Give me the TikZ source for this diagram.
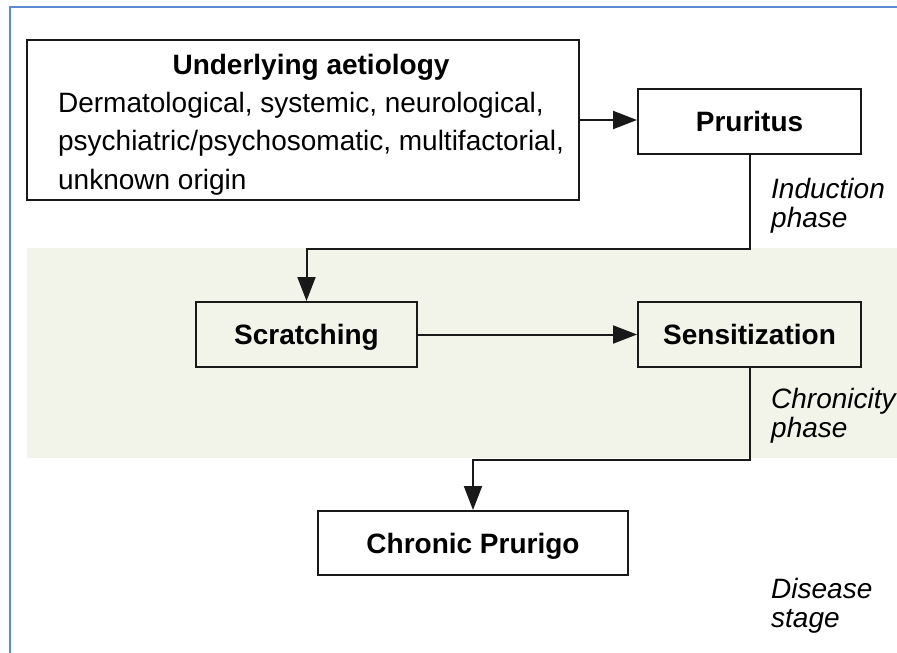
\documentclass[tikz,border=0pt]{standalone}
\usepackage{fontspec}
\setmainfont{Liberation Sans}
\usetikzlibrary{arrows.meta}
\definecolor{bandcol}{RGB}{243,244,233}
\definecolor{framecol}{RGB}{91,139,208}
\tikzset{
  box/.style={draw=black!90, line width=2pt, fill=white, inner sep=0pt,
    font=\fontsize{28}{33}\selectfont\bfseries, text height=20pt, text depth=0pt},
  bandbox/.style={box, fill=bandcol},
  conn/.style={draw=black!90, line width=2pt},
  arr/.style={conn, -{Triangle[length=24pt,width=18pt]}},
  phaselbl/.style={anchor=base west, inner sep=0pt, font=\fontsize{28}{29}\selectfont\itshape, align=left},
}
\begin{document}
\begin{tikzpicture}[x=1pt,y=-1pt]
\useasboundingbox (0,0) rectangle (897,653);
\fill[white] (0,0) rectangle (897,653);
% frame
\draw[framecol, line width=2pt] (10,653) -- (10,7) -- (897,7);
% chronicity band
\fill[bandcol] (27,248) rectangle (897,458);

% nodes
\node[box, minimum width=552pt, minimum height=160pt] (ua) at (303,120) {};
\node[anchor=base, inner sep=0pt, font=\fontsize{28}{38.5}\selectfont] (uatext) at (311,74)
  {\begin{tabular}[t]{@{}l@{}}\multicolumn{1}{@{}c@{}}{\bfseries Underlying aetiology}\\
   Dermatological, systemic, neurological,\\
   psychiatric/psychosomatic, multifactorial,\\
   unknown origin\end{tabular}};
\node[box, minimum width=223pt, minimum height=65pt] (pr) at (749.5,121.5) {Pruritus};
\node[bandbox, minimum width=221pt, minimum height=65pt] (sc) at (306.5,334.5) {Scratching};
\node[bandbox, minimum width=223pt, minimum height=65pt] (se) at (749.5,334.5) {Sensitization};
\node[box, minimum width=310pt, minimum height=64pt] (cp) at (473,543) {Chronic Prurigo};

\node[phaselbl] (l1) at (771,227) {Induction\\phase};
\node[phaselbl] (l2) at (771,437) {Chronicity\\phase};
\node[phaselbl] (l3) at (771,627) {Disease\\stage};

% connectors
\coordinate (j1) at (749.5,249);
\coordinate (j2) at (749.5,460);
\draw[arr] (ua.east) -- (ua.east -| pr.west);
\draw[arr] (pr.south) -- (j1) -| (sc.north);
\draw[arr] (sc.east) -- (sc.east -| se.west);
\draw[arr] (se.south) -- (j2) -| (cp.north);
\end{tikzpicture}
\end{document}
